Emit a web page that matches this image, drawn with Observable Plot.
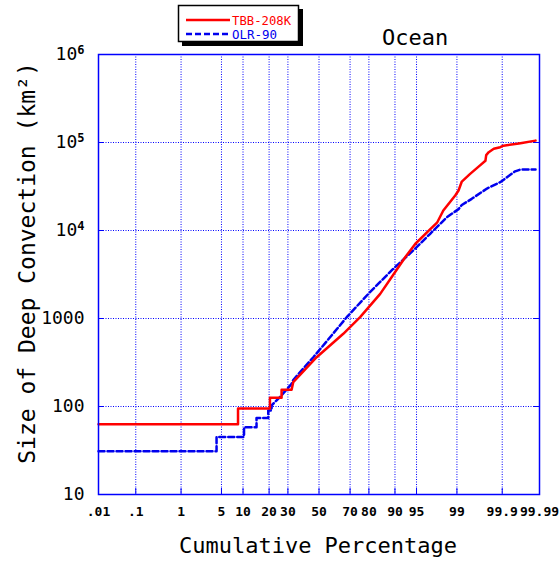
<!DOCTYPE html>
<html>
<head>
<meta charset="utf-8">
<script src="https://cdn.jsdelivr.net/npm/d3@7"></script>
<script src="https://cdn.jsdelivr.net/npm/@observablehq/plot@0.6"></script>
<style>
  body { margin: 0; background: #fff; }
  #wrap { position: relative; width: 560px; height: 564px; font-family: "DejaVu Sans Mono", monospace; }
  #overlay { position: absolute; left: 0; top: 0; pointer-events: none; }
  #chart { position: absolute; left: 0; top: 0; }
</style>
</head>
<body>
<div id="wrap"><div id="chart"></div></div>
<script>
// ---- data ----
const tickPercents = [0.01, 0.1, 1, 5, 10, 20, 30, 50, 70, 80, 90, 95, 99, 99.9, 99.99];
const tickLabels = [".01", ".1", "1", "5", "10", "20", "30", "50", "70", "80", "90", "95", "99", "99.9", "99.99"];
const yTicks = [10, 100, 1000, 1e4, 1e5, 1e6];
const yTickLabels = ["10", "100", "1000", "10⁴", "10⁵", "10⁶"];
const seriesNames = ["TBB-208K", "OLR-90"];
const titleText = "Ocean";
const xTitle = "Cumulative Percentage";
const yTitle = "Size of Deep Convection (km²)";

const tbbPercent = [0.01, 8.6, 8.6, 20.4, 20.4, 26.4, 26.4, 32.2, 33.2, 48.4, 65.9, 75.6, 84.9, 90.0, 92.7, 94.8, 96.6, 97.7, 98.2, 98.92, 99.07, 99.2, 99.46, 99.67, 99.75, 99.76, 99.79, 99.84, 99.888, 99.907, 99.958, 99.966, 99.987];
const tbbSize    = [63, 63, 95, 95, 126, 126, 155, 155, 189, 363, 670, 1035, 1906, 3355, 4970, 7070, 9560, 12400, 16870, 25000, 28500, 36000, 44000, 55000, 62000, 72000, 77600, 84800, 88500, 92000, 96600, 98300, 105000];

const olrPercent = [0.01, 4.2, 4.2, 10.3, 10.3, 14.6, 14.6, 19.6, 19.6, 21.2, 21.2, 25.5, 32.2, 33.2, 46.2, 57.4, 68.0, 80.5, 89.5, 94.4, 96.96, 98.45, 99.07, 99.2, 99.5, 99.77, 99.888, 99.924, 99.953, 99.966, 99.987];
const olrSize    = [31, 31, 45, 45, 58, 58, 74, 74, 90, 90, 103, 128, 181, 200, 363, 612, 1035, 1995, 3670, 5930, 9180, 14160, 17500, 19500, 22900, 30000, 35400, 40300, 47000, 49300, 49300];

// ---- normal probability transform (inverse normal CDF, Acklam) ----
function probit(p) {
  const a = [-3.969683028665376e+01, 2.209460984245205e+02, -2.759285104469687e+02, 1.383577518672690e+02, -3.066479806614716e+01, 2.506628277459239e+00];
  const b = [-5.447609879822406e+01, 1.615858368580409e+02, -1.556989798598866e+02, 6.680131188771972e+01, -1.328068155288572e+01];
  const c = [-7.784894002430293e-03, -3.223964580411365e-01, -2.400758277161838e+00, -2.549671010208316e+00, 4.374664141464968e+00, 2.938163982698783e+00];
  const d = [7.784695709041462e-03, 3.224671290700398e-01, 2.445134137142996e+00, 3.754408661907416e+00];
  const plow = 0.02425, phigh = 1 - plow;
  let q, r;
  if (p < plow) {
    q = Math.sqrt(-2 * Math.log(p));
    return (((((c[0]*q+c[1])*q+c[2])*q+c[3])*q+c[4])*q+c[5]) / ((((d[0]*q+d[1])*q+d[2])*q+d[3])*q+1);
  } else if (p <= phigh) {
    q = p - 0.5; r = q * q;
    return (((((a[0]*r+a[1])*r+a[2])*r+a[3])*r+a[4])*r+a[5])*q / (((((b[0]*r+b[1])*r+b[2])*r+b[3])*r+b[4])*r+1);
  } else {
    q = Math.sqrt(-2 * Math.log(1 - p));
    return -(((((c[0]*q+c[1])*q+c[2])*q+c[3])*q+c[4])*q+c[5]) / ((((d[0]*q+d[1])*q+d[2])*q+d[3])*q+1);
  }
}

const xTickZ = tickPercents.map(p => probit(p / 100));
const xLabelMap = new Map(xTickZ.map((z, i) => [z, tickLabels[i]]));
const yLabelMap = new Map(yTicks.map((v, i) => [v, yTickLabels[i]]));

const tbbRows = tbbPercent.map((p, i) => ({z: probit(p / 100), size: tbbSize[i], series: seriesNames[0]}));
const olrRows = olrPercent.map((p, i) => ({z: probit(p / 100), size: olrSize[i], series: seriesNames[1]}));

const gridStyle = {stroke: "#0000ff", strokeOpacity: 1, strokeWidth: 1, strokeDasharray: "1,1.5"};

const chart = Plot.plot({
  width: 560,
  height: 564,
  marginLeft: 98,
  marginRight: 21,
  marginTop: 54,
  marginBottom: 70,
  style: {fontFamily: "'DejaVu Sans Mono', monospace", background: "white", color: "black"},
  x: {type: "linear", domain: [xTickZ[0], xTickZ[xTickZ.length - 1]], label: null},
  y: {type: "log", domain: [yTicks[0], yTicks[yTicks.length - 1]], label: null},
  marks: [
    Plot.gridX(xTickZ.slice(1, -1), gridStyle),
    Plot.gridY(yTicks.slice(1, -1), gridStyle),
    Plot.axisX({ticks: xTickZ, tickSize: -6, tickFormat: () => "", stroke: "#0000ff"}),
    Plot.axisY({ticks: yTicks, tickSize: -6, tickFormat: () => "", stroke: "#0000ff"}),
    Plot.axisY({ticks: yTicks, anchor: "right", tickSize: -6, tickFormat: () => "", stroke: "#0000ff"}),
    Plot.axisX({ticks: xTickZ, tickSize: 0, tickPadding: 12, tickFormat: z => xLabelMap.get(z), fontSize: 13, fontWeight: "bold", fill: "black"}),
    Plot.axisY({ticks: yTicks, tickSize: 0, tickPadding: 14, tickFormat: v => yLabelMap.get(v), fontSize: 18, fill: "black"}),
    Plot.line(olrRows, {x: "z", y: "size", stroke: "#0000ee", strokeWidth: 2.5, strokeDasharray: "6,3"}),
    Plot.line(tbbRows, {x: "z", y: "size", stroke: "#ff0000", strokeWidth: 2.5}),
    Plot.frame({stroke: "#0000ff", strokeWidth: 1.5})
  ]
});
document.getElementById("chart").appendChild(chart);

// render power-of-ten labels with a real superscript
const supMap = {"⁴": "4", "⁵": "5", "⁶": "6"};
d3.select(chart).selectAll("text").each(function () {
  const t = this.textContent;
  const m = /^10([⁴⁵⁶])$/.exec(t);
  if (m && this.childElementCount === 0) {
    const sel = d3.select(this);
    sel.text(null);
    sel.append("tspan").text("10");
    sel.append("tspan").attr("dy", "-0.5em").attr("font-size", 12).attr("font-weight", "bold").text(supMap[m[1]]);
  }
});

// ---- overlay: title, axis titles, legend ----
const ov = d3.select("#wrap").append("svg").attr("id", "overlay")
  .attr("width", 560).attr("height", 564)
  .style("font-family", "'DejaVu Sans Mono', monospace");

ov.append("text").attr("x", 382).attr("y", 45).attr("font-size", 22).attr("fill", "black").text(titleText);
ov.append("text").attr("x", 318).attr("y", 552.5).attr("font-size", 22).attr("text-anchor", "middle").attr("fill", "black").text(xTitle);
ov.append("text").attr("transform", "translate(35,263) rotate(-90)").attr("font-size", 23).attr("text-anchor", "middle").attr("fill", "black").text(yTitle);

const lg = ov.append("g");
lg.append("rect").attr("x", 182).attr("y", 9).attr("width", 121).attr("height", 37).attr("fill", "black");
lg.append("rect").attr("x", 178.5).attr("y", 5.5).attr("width", 120).attr("height", 36).attr("fill", "white").attr("stroke", "black").attr("stroke-width", 1.5);
lg.append("line").attr("x1", 186).attr("x2", 230).attr("y1", 20).attr("y2", 20).attr("stroke", "#ff0000").attr("stroke-width", 2.5);
lg.append("text").attr("x", 232).attr("y", 24.5).attr("font-size", 12).attr("fill", "#ff0000")
  .attr("textLength", 59).attr("lengthAdjust", "spacingAndGlyphs").text(seriesNames[0]);
lg.append("line").attr("x1", 186).attr("x2", 230).attr("y1", 34).attr("y2", 34).attr("stroke", "#0000ee").attr("stroke-width", 2.5).attr("stroke-dasharray", "6,3");
lg.append("text").attr("x", 232).attr("y", 38.5).attr("font-size", 12).attr("fill", "#0000ee")
  .attr("textLength", 45).attr("lengthAdjust", "spacingAndGlyphs").text(seriesNames[1]);
</script>
</body>
</html>
